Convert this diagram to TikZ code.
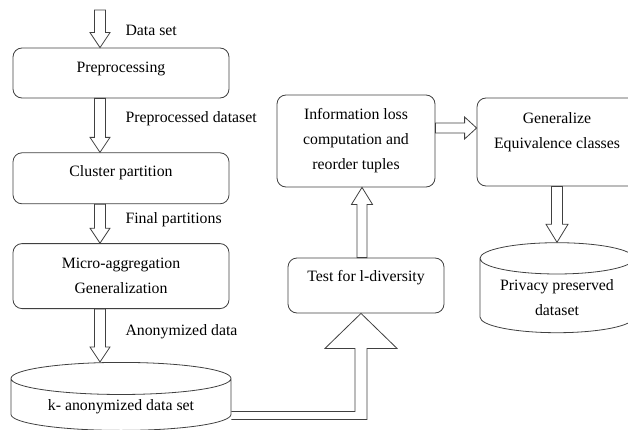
\documentclass[tikz,border=0pt]{standalone}
\usepackage{fontspec}
\setmainfont{Liberation Serif}
\usetikzlibrary{shapes,positioning,calc}

\begin{document}
\begin{tikzpicture}[
    x=1pt, y=1pt,
    stage/.style={rectangle, draw=black!75, line width=0.8pt, rounded corners=9pt, align=center, font=\fontsize{15.8}{25}\selectfont},
    db/.style={cylinder, draw=black!75, line width=0.8pt, shape border rotate=90, align=center, font=\fontsize{15.8}{25}\selectfont},
    note/.style={anchor=west, font=\fontsize{15.8}{25}\selectfont},
    hollow/.style={draw=black!75, line width=0.8pt},
    hollow down/.style n args={3}{hollow, to path={let \p1=(\tikztostart), \p2=(\tikztotarget) in
        (\x1-#1,\y1) -- (\x1-#1,\y2+#3) -- (\x1-#2,\y2+#3) -- (\x1,\y2) -- (\x1+#2,\y2+#3) -- (\x1+#1,\y2+#3) -- (\x1+#1,\y1) -- cycle}},
    hollow up/.style n args={3}{hollow, to path={let \p1=(\tikztostart), \p2=(\tikztotarget) in
        (\x1-#1,\y1) -- (\x1-#1,\y2-#3) -- (\x1-#2,\y2-#3) -- (\x1,\y2) -- (\x1+#2,\y2-#3) -- (\x1+#1,\y2-#3) -- (\x1+#1,\y1) -- cycle}},
    hollow right/.style n args={3}{hollow, to path={let \p1=(\tikztostart), \p2=(\tikztotarget) in
        (\x1,\y1+#1) -- (\x2-#3,\y1+#1) -- (\x2-#3,\y1+#2) -- (\x2,\y1) -- (\x2-#3,\y1-#2) -- (\x2-#3,\y1-#1) -- (\x1,\y1-#1) -- cycle}}
]
\useasboundingbox (0,0) rectangle (628,429);

% Left column
\node[stage, minimum width=216pt, minimum height=50pt, text depth=11pt] (pre) at (121,356) {Preprocessing};
\node[stage, minimum width=216pt, minimum height=51pt, text depth=14pt, below=54pt of pre] (clu) {Cluster partition};
\node[stage, minimum width=216pt, minimum height=65pt, below=39pt of clu] (micro) {Micro-aggregation\\Generalization};
\node[db, minimum width=220pt, minimum height=68pt, aspect=0.21, below=53pt of micro] (kdata) {k- anonymized data set};

% Right side
\node[stage, minimum width=156pt, minimum height=55pt, text depth=20pt] (test) at (366,143.5) {Test for l-diversity};
\node[stage, minimum width=158pt, minimum height=92pt] (info) at (356,288) {Information loss\\computation and\\reorder tuples};
\node[stage, minimum width=160pt, minimum height=88pt, text depth=22pt] (gen) at (557,287) {Generalize\\Equivalence classes};
\node[db, minimum width=154pt, minimum height=90pt, aspect=0.26] (priv) at (557,131) {Privacy preserved\\dataset};

% Arrows - left column
\coordinate (dsin) at (100,419);
\draw[hollow down={5.5pt}{10pt}{15pt}] (dsin) to (pre.north -| dsin);
\draw[hollow down={5.5pt}{10pt}{15pt}] (pre.south -| dsin) to (clu.north -| dsin);
\draw[hollow down={5.5pt}{10pt}{15pt}] (clu.south -| dsin) to (micro.north -| dsin);
\draw[hollow down={5.5pt}{10pt}{15pt}] (micro.south -| dsin) to (kdata.north -| dsin);

% Arrow labels
\node[note] (lbl-ds) at (122,399) {Data set};
\node[note] (lbl-pre) at (122,310) {Preprocessed dataset};
\node[note] (lbl-fin) at (122,209) {Final partitions};
\node[note] (lbl-anon) at (122,97) {Anonymized data};

% Arrow - anonymized data to l-diversity test
\draw[hollow] let \p1=(kdata.east), \p2=(test.south) in
    (\x1,\y1-5pt) -- (\x2-11pt,\y1-5pt) -- (\x2-11pt,\y2-35pt) -- (\x2-41pt,\y2-35pt) -- (\x2-5pt,\y2)
    -- (\x2+31pt,\y2-35pt) -- (\x2+1pt,\y2-35pt) -- (\x2+1pt,\y1-13pt) -- (\x1,\y1-13pt);

% Arrows - right side
\draw[hollow up={5pt}{10.5pt}{17pt}] ($(test.north)+(-4,0)$) to (info.south);
\draw[hollow right={5pt}{11pt}{12pt}] ($(info.east)+(0,13)$) to (gen.west);
\draw[hollow down={5.5pt}{11pt}{18pt}] (gen.south) to (priv.north);

\end{tikzpicture}
\end{document}
